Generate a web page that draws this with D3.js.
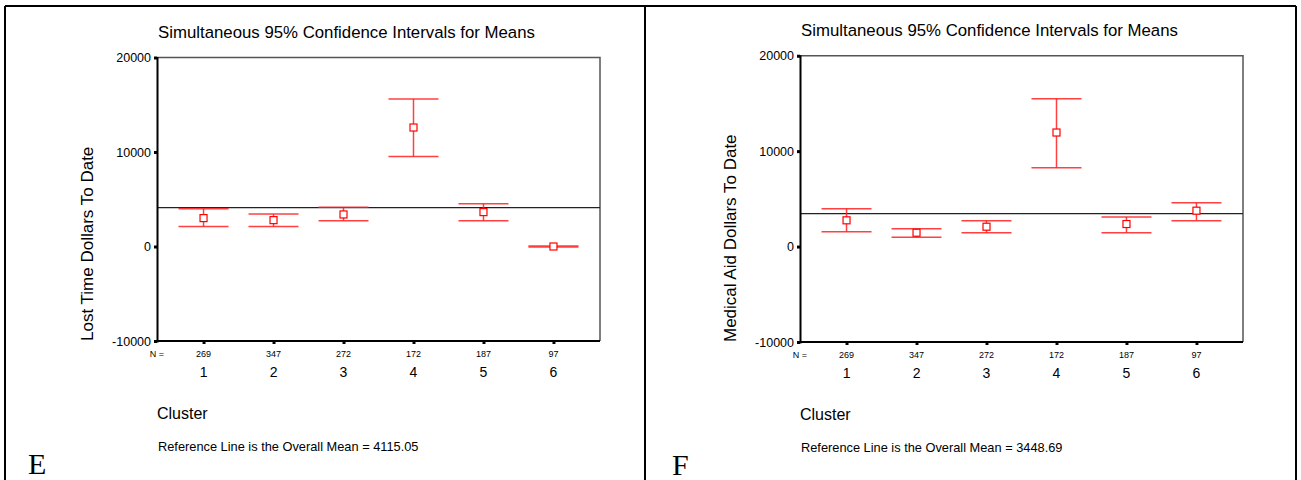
<!DOCTYPE html>
<html lang="en">
<head>
  <meta charset="UTF-8">
  <script src="https://cdn.jsdelivr.net/npm/d3@7"></script>
  <title>Simultaneous 95% Confidence Intervals</title>
  <style>
    body { margin: 0; background: white; }
    svg text { font-family: "Liberation Sans", Arial, sans-serif; fill: #000; }
    svg text.letter { font-family: "Liberation Serif", "Times New Roman", serif; }
  </style>
</head>
<body>
  <svg id="chart" width="1301" height="480"></svg>
  <script>
    /*------------------- data --------------------*/
    const clusters = ["1", "2", "3", "4", "5", "6"];
    const clusterN = [269, 347, 272, 172, 187, 97];
    const yTicks = [-10000, 0, 10000, 20000];

    // Lost time dollars to date
    const lostMean = [3005, 2790, 3390, 12590, 3640, 0];
    const lostLower = [2116, 2116, 2720, 9520, 2720, -50];
    const lostUpper = [3990, 3430, 4150, 15600, 4520, 50];
    const lostOverall = 4115.05;

    // Medical aid dollars to date
    const medMean = [2750, 1450, 2080, 11950, 2360, 3760];
    const medLower = [1550, 970, 1450, 8270, 1450, 2710];
    const medUpper = [3970, 1870, 2710, 15490, 3100, 4600];
    const medOverall = 3448.69;

    const svg = d3.select("#chart");

    // frame around the two panels
    const frame = svg.append("g").attr("stroke", "#000").attr("stroke-width", 2);
    frame.append("line").attr("x1", 5).attr("x2", 1296).attr("y1", 6).attr("y2", 6);
    [5, 645, 1296].forEach(x => {
      frame.append("line").attr("x1", x).attr("x2", x).attr("y1", 6).attr("y2", 480);
    });

    const drawPanel = (p) => {
      const g = svg.append("g");

      const x = d3.scalePoint()
        .domain(clusters)
        .range([p.left, p.right])
        .padding(0.665);
      const y = d3.scaleLinear()
        .domain([-10000, 20000])
        .range([p.bottom, p.top]);

      // title
      g.append("text")
        .attr("x", (p.left + p.right) / 2 - 32)
        .attr("y", p.titleY)
        .attr("text-anchor", "middle")
        .attr("font-size", 16.8)
        .text("Simultaneous 95% Confidence Intervals for Means");

      // top + right border of plot (grey)
      g.append("path")
        .attr("d", `M${p.left},${p.top}H${p.right}V${p.bottom}`)
        .attr("fill", "none")
        .attr("stroke", "#555")
        .attr("stroke-width", 1.5);

      // reference line
      g.append("line")
        .attr("x1", p.left).attr("x2", p.right)
        .attr("y1", y(p.overall)).attr("y2", y(p.overall))
        .attr("stroke", "#222")
        .attr("stroke-width", 1.2);

      // y axis
      const yAxis = g.append("g")
        .attr("transform", `translate(${p.left},0)`)
        .call(d3.axisLeft(y).tickValues(yTicks).tickSize(3).tickPadding(3).tickFormat(d => String(d)));
      yAxis.select(".domain").attr("stroke-width", 2);
      yAxis.selectAll(".tick line").attr("stroke-width", 3);
      yAxis.selectAll(".tick text").attr("font-size", 12.5);

      // x axis
      const xAxis = g.append("g")
        .attr("transform", `translate(0,${p.bottom})`)
        .call(d3.axisBottom(x).tickSize(3).tickFormat(""));
      xAxis.select(".domain").attr("stroke-width", 2).attr("d", `M${p.left},0H${p.right}`);
      xAxis.selectAll(".tick line").attr("stroke-width", 3);

      // N = row and cluster labels
      g.append("text")
        .attr("x", p.left).attr("y", p.bottom + 16)
        .attr("text-anchor", "middle").attr("font-size", 9)
        .text("N =");
      g.selectAll(".nlab").data(clusterN).enter().append("text")
        .attr("x", (d, i) => x(clusters[i]))
        .attr("y", p.bottom + 16)
        .attr("text-anchor", "middle").attr("font-size", 9)
        .text(d => d);
      g.selectAll(".clab").data(clusters).enter().append("text")
        .attr("x", d => x(d))
        .attr("y", p.bottom + 36)
        .attr("text-anchor", "middle").attr("font-size", 14)
        .text(d => d);

      // y label
      g.append("text")
        .attr("transform", `translate(${p.left - 64},${p.bottom}) rotate(-90)`)
        .attr("text-anchor", "start")
        .attr("font-size", 17)
        .text(p.ylabel);

      // x label and footnote
      g.append("text")
        .attr("x", p.left).attr("y", p.bottom + 78)
        .attr("font-size", 16)
        .text("Cluster");
      g.append("text")
        .attr("x", p.left + 1).attr("y", p.bottom + 110)
        .attr("font-size", 12.8)
        .text(`Reference Line is the Overall Mean = ${p.overall}`);

      // panel letter
      g.append("text")
        .attr("class", "letter")
        .attr("x", p.letterX).attr("y", p.bottom + 133)
        .attr("font-size", 30)
        .text(p.letter);

      // error bars
      const capW = 25;
      const bars = g.selectAll(".bar").data(clusters).enter().append("g")
        .attr("stroke", "#ff2020")
        .attr("stroke-width", 1.5)
        .attr("stroke-opacity", 0.85);
      bars.append("line")
        .attr("x1", d => x(d)).attr("x2", d => x(d))
        .attr("y1", (d, i) => y(p.upper[i])).attr("y2", (d, i) => y(p.lower[i]));
      bars.append("line")
        .attr("x1", d => x(d) - capW).attr("x2", d => x(d) + capW)
        .attr("y1", (d, i) => y(p.upper[i])).attr("y2", (d, i) => y(p.upper[i]));
      bars.append("line")
        .attr("x1", d => x(d) - capW).attr("x2", d => x(d) + capW)
        .attr("y1", (d, i) => y(p.lower[i])).attr("y2", (d, i) => y(p.lower[i]));
      bars.append("rect")
        .attr("x", d => x(d) - 3.5)
        .attr("y", (d, i) => y(p.mean[i]) - 3.5)
        .attr("width", 7).attr("height", 7)
        .attr("fill", "white")
        .attr("stroke", "#ff0000")
        .attr("stroke-opacity", 1)
        .attr("stroke-width", 1.2);
    };

    drawPanel({
      left: 157, right: 600, top: 57.5, bottom: 341,
      titleY: 38, ylabel: "Lost Time Dollars To Date",
      mean: lostMean, lower: lostLower, upper: lostUpper,
      overall: lostOverall, letter: "E", letterX: 28
    });
    drawPanel({
      left: 800, right: 1243, top: 55.7, bottom: 342,
      titleY: 36, ylabel: "Medical Aid Dollars To Date",
      mean: medMean, lower: medLower, upper: medUpper,
      overall: medOverall, letter: "F", letterX: 672
    });
  </script>
</body>
</html>
